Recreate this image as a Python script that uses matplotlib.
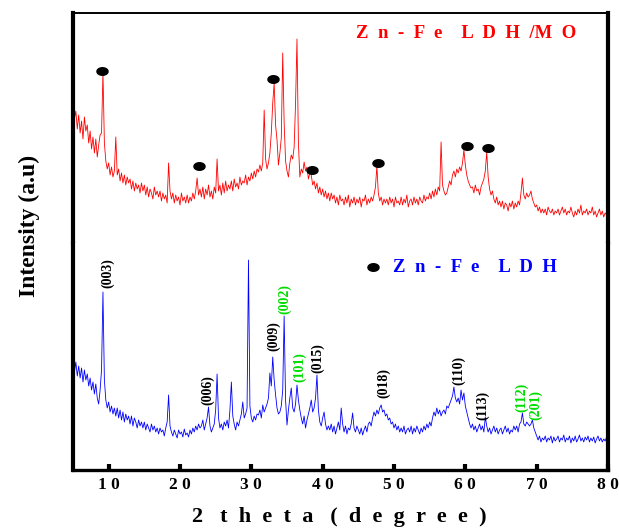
import numpy as np
import matplotlib
matplotlib.use('Agg')
import matplotlib.pyplot as plt

# 2-theta grid (degrees), 0.2 deg step from 5 to 80
two_theta = np.round(np.arange(5.0, 80.0001, 0.2), 1)

# Zn-Fe LDH/MO intensities (a.u.)
ldh_mo = [
    136, 124, 132, 114, 128, 110, 122, 104, 126, 112,
    118, 100, 112, 94, 106, 90, 104, 86, 98, 108,
    110, 171, 100, 82, 74, 80, 68, 76, 66, 72,
    106, 68, 74, 62, 70, 60, 68, 58, 66, 60,
    64, 54, 62, 52, 60, 54, 58, 50, 60, 52,
    58, 48, 56, 46, 54, 50, 44, 56, 48, 52,
    46, 52, 42, 50, 44, 48, 40, 80, 52, 44,
    50, 40, 48, 42, 46, 38, 50, 42, 46, 40,
    48, 40, 46, 42, 50, 44, 52, 65, 48, 54,
    46, 56, 44, 54, 48, 58, 46, 52, 44, 56,
    50, 84, 52, 58, 48, 60, 50, 62, 52, 58,
    54, 62, 52, 64, 56, 60, 54, 66, 58, 62,
    60, 68, 58, 66, 62, 70, 64, 72, 66, 74,
    71, 78, 72, 80, 133, 84, 74, 80, 90, 110,
    140, 160, 118, 103, 78, 90, 105, 190, 120, 82,
    72, 66, 80, 88, 84, 96, 140, 204, 100, 66,
    74, 70, 81, 72, 76, 64, 70, 68, 58, 62,
    54, 60, 50, 56, 48, 54, 46, 52, 44, 50,
    42, 50, 44, 48, 40, 46, 38, 48, 42, 44,
    38, 46, 40, 48, 36, 44, 40, 46, 38, 44,
    40, 46, 36, 44, 42, 48, 38, 44, 40, 46,
    42, 48, 56, 77, 50, 42, 46, 38, 44, 40,
    44, 38, 46, 40, 44, 36, 46, 40, 42, 38,
    46, 38, 44, 40, 48, 36, 42, 44, 38, 46,
    40, 44, 38, 46, 42, 40, 48, 42, 46, 44,
    50, 44, 52, 46, 54, 48, 56, 52, 101, 58,
    52, 48, 50, 56, 62, 58, 68, 72, 66, 74,
    70, 76, 72, 80, 93, 78, 68, 62, 58, 55,
    56, 50, 58, 52, 54, 48, 56, 60, 64, 72,
    91, 66, 54, 48, 52, 44, 40, 46, 38, 42,
    36, 42, 34, 40, 38, 32, 40, 36, 42, 34,
    40, 36, 42, 38, 50, 65, 48, 44, 50, 46,
    48, 52, 44, 40, 36, 38, 32, 36, 30, 34,
    30, 34, 28, 36, 32, 30, 34, 28, 32, 30,
    34, 28, 32, 36, 30, 34, 28, 32, 30, 36,
    30, 26, 32, 28, 34, 30, 38, 28, 32, 30,
    34, 28, 32, 30, 36, 28, 32, 26, 30, 34,
    28, 32, 26, 30, 28, 30,
]

# Zn-Fe LDH intensities (a.u.)
ldh = [
    112, 98, 108, 94, 104, 92, 102, 88, 100, 90,
    96, 84, 92, 80, 88, 76, 86, 72, 66, 80,
    100, 178, 90, 70, 62, 68, 58, 64, 56, 62,
    54, 62, 52, 60, 50, 58, 48, 56, 50, 54,
    46, 54, 44, 52, 48, 42, 50, 44, 48, 42,
    48, 40, 46, 42, 38, 46, 40, 44, 38, 42,
    36, 42, 38, 40, 34, 42, 48, 75, 44, 38,
    34, 40, 36, 32, 40, 36, 38, 33, 41, 35,
    37, 33, 40, 36, 42, 38, 44, 40, 46, 42,
    44, 50, 40, 46, 52, 63, 44, 38, 42, 46,
    60, 96, 52, 42, 46, 40, 48, 44, 50, 42,
    60, 88, 54, 46, 40, 48, 44, 50, 56, 68,
    52, 56, 62, 210, 64, 52, 48, 54, 50, 56,
    55, 60, 52, 65, 58, 62, 66, 72, 97, 84,
    113, 90, 75, 62, 56, 58, 64, 80, 154, 70,
    45, 60, 72, 82, 62, 58, 66, 85, 70, 60,
    52, 46, 54, 42, 50, 56, 62, 70, 58, 62,
    72, 95, 60, 48, 44, 52, 58, 46, 40, 44,
    40, 46, 38, 44, 36, 42, 48, 40, 62, 46,
    38, 44, 36, 42, 40, 46, 57, 42, 38, 44,
    40, 36, 42, 35, 40, 44, 38, 46, 48, 44,
    52, 58, 54, 60, 56, 62, 65, 58, 60, 54,
    56, 50, 52, 46, 48, 42, 46, 40, 44, 38,
    42, 38, 44, 36, 40, 42, 38, 44, 36, 42,
    38, 44, 40, 36, 42, 38, 44, 40, 46, 42,
    48, 44, 52, 58, 54, 62, 56, 60, 54, 58,
    60, 56, 64, 62, 66, 70, 74, 83, 72, 68,
    72, 66, 80, 70, 77, 64, 58, 52, 46, 42,
    46, 40, 44, 38, 42, 46, 40, 44, 38, 53,
    44, 38, 42, 36, 40, 44, 38, 42, 36, 40,
    42, 36, 40, 44, 38, 42, 36, 40, 38, 44,
    40, 44, 38, 46, 48, 57, 46, 44, 48, 46,
    44, 46, 50, 42, 38, 34, 30, 34, 28, 32,
    30, 34, 28, 32, 30, 34, 27, 33, 29, 31,
    34, 28, 32, 30, 35, 28, 32, 30, 34, 27,
    32, 29, 34, 28, 31, 35, 29, 32, 28, 33,
    30, 34, 28, 32, 29, 33, 27, 31, 34, 29,
    32, 28, 31, 29, 33, 30,
]

# black dot markers on the LDH/MO pattern
dot_pos = [9.1, 22.7, 33.1, 38.5, 47.8, 60.2, 63.2]
dot_int = [172, 77, 164, 73, 80, 97, 95]

# hkl labels on the LDH pattern
hkl_labels = ['(003)', '(006)', '(009)', '(002)', '(101)', '(015)',
              '(018)', '(110)', '(113)', '(112)', '(201)']
hkl_pos = [9.9, 23.9, 33.15, 34.7, 36.8, 39.3, 48.6, 59.1, 62.4, 67.9, 69.9]
hkl_int = [197, 80, 134, 171, 103, 112, 87, 100, 65, 73, 65]
hkl_green = [False, False, False, True, True, False, False, False, False, True, True]

x_ticks = [10, 20, 30, 40, 50, 60, 70, 80]
x_tick_labels = ['1 0', '2 0', '3 0', '4 0', '5 0', '6 0', '7 0', '8 0']

FONT = 'Liberation Serif'
W, H = 619, 528
fig = plt.figure(figsize=(W / 100, H / 100), dpi=100)

L, R = 73, 608
ax_top = fig.add_axes([L / W, 1 - 243 / H, (R - L) / W, 230 / H])
ax_bot = fig.add_axes([L / W, 1 - 470 / H, (R - L) / W, 227 / H])

theta = np.linspace(0, 2 * np.pi, 40)
ellipse = np.column_stack([np.cos(theta), 0.68 * np.sin(theta)])

# top panel
ax_top.plot(two_theta, ldh_mo, color='#FF0000', lw=0.6)
ax_top.plot(dot_pos, dot_int, ls='none', marker=ellipse, ms=8, color='black')
ax_top.set_xlim(5, 80)
ax_top.set_ylim(0, 230)
ax_top.set_xticks([])
ax_top.set_yticks([])
ax_top.spines['bottom'].set_visible(False)
ax_top.spines['top'].set_linewidth(1.4)
ax_top.spines['left'].set_linewidth(3)
ax_top.spines['right'].set_linewidth(3)
ax_top.text(60.1, 209, 'Z  n  -  F  e    L  D  H  /M  O', color='#FF0000',
            fontsize=13.5, fontweight='bold', family=FONT, ha='center', va='center')

# bottom panel
ax_bot.plot(two_theta, ldh, color='#0000FF', lw=0.6)
ax_bot.set_xlim(5, 80)
ax_bot.set_ylim(0, 227)
ax_bot.set_yticks([])
ax_bot.spines['top'].set_visible(False)
ax_bot.spines['left'].set_linewidth(3)
ax_bot.spines['right'].set_linewidth(3)
ax_bot.spines['bottom'].set_linewidth(2.4)
ax_bot.set_xticks(x_ticks)
ax_bot.set_xticklabels(x_tick_labels, fontsize=12.5, fontweight='bold', family=FONT)
ax_bot.tick_params(axis='x', direction='in', length=4, width=3, pad=5)

ax_bot.plot([47.05], [203], ls='none', marker=ellipse, ms=8, color='black')
ax_bot.text(49.9, 203, 'Z  n  -  F  e    L  D  H', color='#0000FF',
            fontsize=13.5, fontweight='bold', family=FONT, ha='left', va='center')

for lab, xp, yp, g in zip(hkl_labels, hkl_pos, hkl_int, hkl_green):
    ax_bot.text(xp, yp, lab, rotation=90, ha='center', va='center',
                fontsize=10, fontweight='bold', family=FONT,
                color='#00DD00' if g else 'black')

fig.text(339 / W, 1 - 522 / H, '2   t  h  e  t  a   (  d  e  g  r  e  e  )',
         ha='center', va='baseline', fontsize=16, fontweight='bold', family=FONT)
fig.text(29 / W, 1 - 226 / H, 'Intensity (a.u)', rotation=90, ha='center', va='center',
         fontsize=17, fontweight='bold', family=FONT)

fig.savefig('out.png', dpi=100)
